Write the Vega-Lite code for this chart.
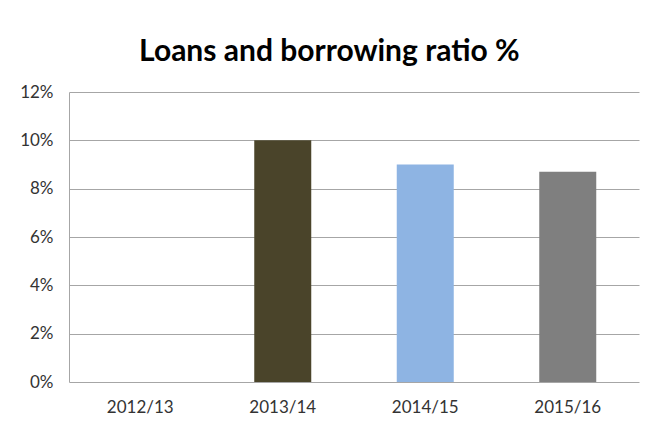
{
  "$schema": "https://vega.github.io/schema/vega-lite/v6.json",
  "width": 570,
  "height": 290,
  "autosize": {"type": "none"},
  "padding": {"left": 69, "top": 92, "right": 15, "bottom": 41},
  "background": "white",
  "title": {
    "text": "Loans and borrowing ratio %",
    "font": "Lato",
    "fontSize": 30,
    "fontWeight": "bold",
    "color": "#000000",
    "anchor": "middle",
    "frame": "bounds",
    "offset": 16
  },
  "data": {
    "values": [
      {"year": "2012/13", "ratio": 0},
      {"year": "2013/14", "ratio": 0.1},
      {"year": "2014/15", "ratio": 0.09},
      {"year": "2015/16", "ratio": 0.087}
    ]
  },
  "mark": {"type": "bar"},
  "encoding": {
    "x": {
      "field": "year",
      "type": "nominal",
      "sort": null,
      "scale": {"paddingInner": 0.6, "paddingOuter": 0.3},
      "axis": {
        "title": null,
        "labelAngle": 0,
        "ticks": false,
        "domain": false,
        "grid": false,
        "labelPadding": 17
      }
    },
    "y": {
      "field": "ratio",
      "type": "quantitative",
      "scale": {"domain": [0, 0.12]},
      "axis": {
        "title": null,
        "format": ".0%",
        "values": [0, 0.02, 0.04, 0.06, 0.08, 0.1, 0.12],
        "ticks": false,
        "domain": true,
        "domainColor": "#a6a6a6",
        "grid": true,
        "gridColor": "#a6a6a6",
        "gridOpacity": 1,
        "labelPadding": 16
      }
    },
    "color": {
      "field": "year",
      "type": "nominal",
      "scale": {
        "domain": ["2012/13", "2013/14", "2014/15", "2015/16"],
        "range": ["#4f81bd", "#4a442a", "#8eb4e3", "#7f7f7f"]
      },
      "legend": null
    }
  },
  "config": {
    "view": {"stroke": null},
    "axis": {
      "labelFont": "Lato",
      "labelFontSize": 17,
      "labelColor": "#333333"
    }
  }
}
